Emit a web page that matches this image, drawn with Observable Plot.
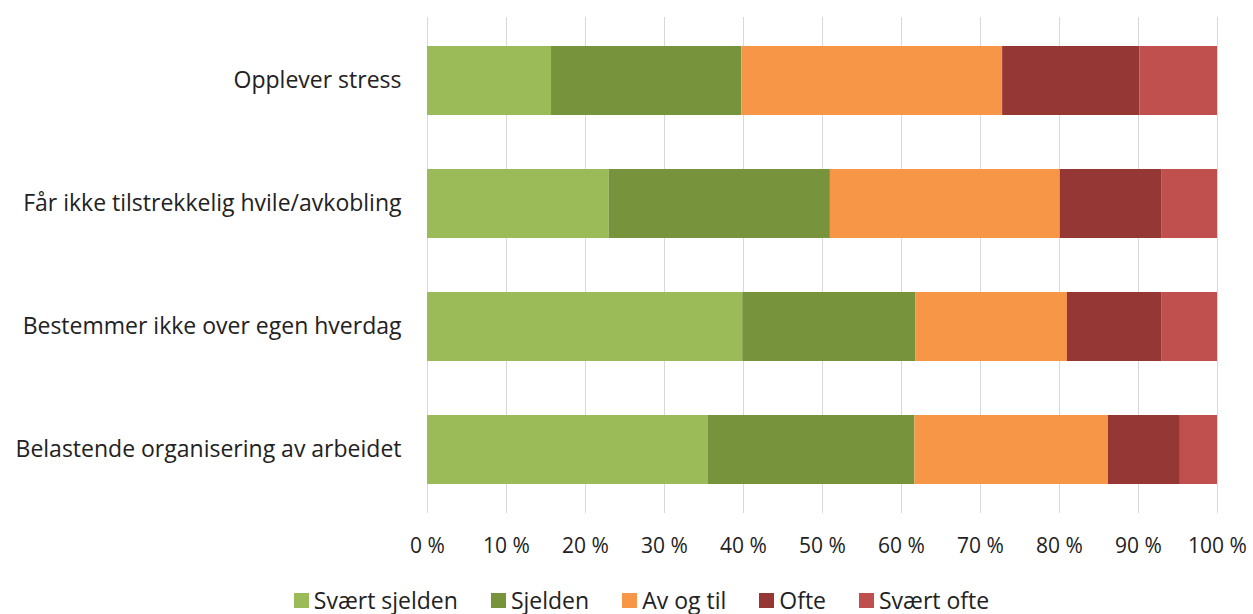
<!DOCTYPE html>
<html><head><meta charset="utf-8">
<script src="https://cdn.jsdelivr.net/npm/d3@7"></script>
<script src="https://cdn.jsdelivr.net/npm/@observablehq/plot@0.6"></script>
<style>
body{margin:0;background:#fff;font-family:"Open Sans",Arial,sans-serif;}
#legend{display:flex;justify-content:center;gap:33px;font-size:23px;color:#222;margin-left:30px;margin-top:14px}
#legend span.i{display:flex;align-items:center;gap:5px}
#legend span.s{width:15px;height:15px;display:inline-block}
</style></head><body>
<div id="chart"></div>
<div id="legend"></div>
<script>
const categories = ["Opplever stress","Får ikke tilstrekkelig hvile/avkobling","Bestemmer ikke over egen hverdag","Belastende organisering av arbeidet"];
const seriesNames = ["Svært sjelden","Sjelden","Av og til","Ofte","Svært ofte"];
const colors = ["#9BBB59","#77933C","#F79646","#953735","#C0504D"];
const sværtSjelden = [15.7, 23.0, 39.9, 35.5];
const sjelden = [24.1, 28.0, 21.9, 26.2];
const avOgTil = [33.0, 29.1, 19.2, 24.5];
const ofte = [17.4, 12.9, 12.0, 9.1];
const sværtOfte = [9.8, 7.0, 7.0, 4.7];
const tickValues = [0,10,20,30,40,50,60,70,80,90,100];

const seriesVals = [sværtSjelden, sjelden, avOgTil, ofte, sværtOfte];
const data = [];
categories.forEach((c,i)=>seriesNames.forEach((s,j)=>data.push({cat:c, serie:s, value:seriesVals[j][i]})));

const chart = Plot.plot({
  width:1253, height:570,
  marginLeft:427, marginRight:36, marginTop:17, marginBottom:57,
  style:{fontFamily:"Open Sans, Arial, sans-serif", fontSize:"21px", color:"#222"},
  x:{domain:[0,100], ticks:tickValues, tickFormat:d=>d+" %", label:null, tickSize:0, tickPadding:25},
  y:{domain:categories, label:null, tickSize:0, tickPadding:26, paddingInner:0.435, paddingOuter:0.218},
  color:{domain:seriesNames, range:colors},
  marks:[
    Plot.ruleX(tickValues,{stroke:"#d9d9d9", strokeWidth:1}),
    Plot.barX(data, Plot.stackX({x:"value", y:"cat", fill:"serie", order:seriesNames})),
    Plot.axisY({tickSize:0, tickPadding:26, fontSize:23, label:null})
  ]
});
document.getElementById("chart").appendChild(chart);
const lg = document.getElementById("legend");
seriesNames.forEach((s,i)=>{
  const it=document.createElement("span"); it.className="i";
  it.innerHTML=`<span class="s" style="background:${colors[i]}"></span>${s}`;
  lg.appendChild(it);
});
</script></body></html>
